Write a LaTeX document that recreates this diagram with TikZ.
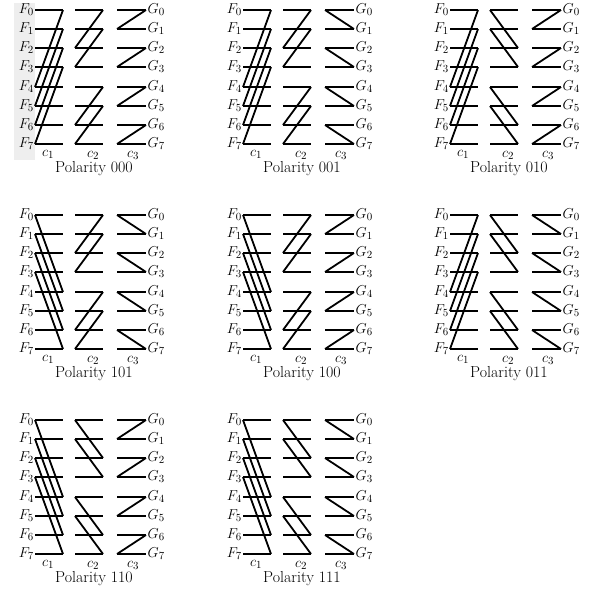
\documentclass[tikz,border=0pt]{standalone}
\tikzset{
  wire/.style={line width=1.8bp},
  flabel/.style={anchor=east, inner sep=1bp, font=\fontsize{15}{17}\selectfont},
  glabel/.style={anchor=west, inner sep=1.5bp, font=\fontsize{15}{17}\selectfont},
  clabel/.style={inner sep=0pt, font=\fontsize{15}{17}\selectfont},
  ptitle/.style={inner sep=0pt, font=\fontsize{16}{18}\selectfont}
}
\begin{document}
\begin{tikzpicture}[x=1bp,y=-1bp]
    \useasboundingbox (0,0) rectangle (589,593);

    % grey strip behind the first labels
    \fill[gray!13] (14,3) rectangle (35,160);

    \foreach \px/\py/\a/\b/\c [count=\n] in {0/0/0/0/0, 208/0/0/0/1, 415/0/0/1/0,
        0/205/1/0/1, 208/205/1/0/0, 415/205/0/1/1, 0/410/1/1/0, 208/410/1/1/1}{
    \begin{scope}[shift={(\px,\py)}, name prefix=p\n-]
        % ends of the wires in the three columns
        \foreach \i/\yy in {0/10,1/29,2/48,3/67,4/87,5/106,6/125,7/144}{
            \coordinate (l1-\i) at (35,\yy);  \coordinate (r1-\i) at (63,\yy);
            \coordinate (l2-\i) at (75,\yy);  \coordinate (r2-\i) at (103,\yy);
            \coordinate (l3-\i) at (117,\yy); \coordinate (r3-\i) at (146,\yy);
        }

        % horizontal wires
        \foreach \i in {0,...,7}{
            \draw[wire] (l1-\i) -- (r1-\i);
            \draw[wire] (l2-\i) -- (r2-\i);
            \draw[wire] (l3-\i) -- (r3-\i);
            \node[flabel] (F\i) at (l1-\i) {$F_{\i}$};
            \node[glabel] (G\i) at (r3-\i) {$G_{\i}$};
        }

        % c1: i -- i+4
        \foreach \i in {0,1,2,3}{
            \pgfmathtruncatemacro\j{\i+4}
            \ifnum\a=0 \draw[wire] (r1-\i) -- (l1-\j);
            \else \draw[wire] (l1-\i) -- (r1-\j); \fi
        }
        % c2: i -- i+2
        \foreach \i in {0,1,4,5}{
            \pgfmathtruncatemacro\j{\i+2}
            \ifnum\b=0 \draw[wire] (r2-\i) -- (l2-\j);
            \else \draw[wire] (l2-\i) -- (r2-\j); \fi
        }
        % c3: i -- i+1
        \foreach \i in {0,2,4,6}{
            \pgfmathtruncatemacro\j{\i+1}
            \ifnum\c=0 \draw[wire] (r3-\i) -- (l3-\j);
            \else \draw[wire] (l3-\i) -- (r3-\j); \fi
        }

        % column names and caption
        \node[clabel] (c1) at (48,154) {$c_1$};
        \node[clabel] (c2) at (93,155) {$c_2$};
        \node[clabel] (c3) at (133,155) {$c_3$};
        \node[ptitle] (title) at (94,169) {Polarity \a\b\c};
    \end{scope}
    }
\end{tikzpicture}
\end{document}
